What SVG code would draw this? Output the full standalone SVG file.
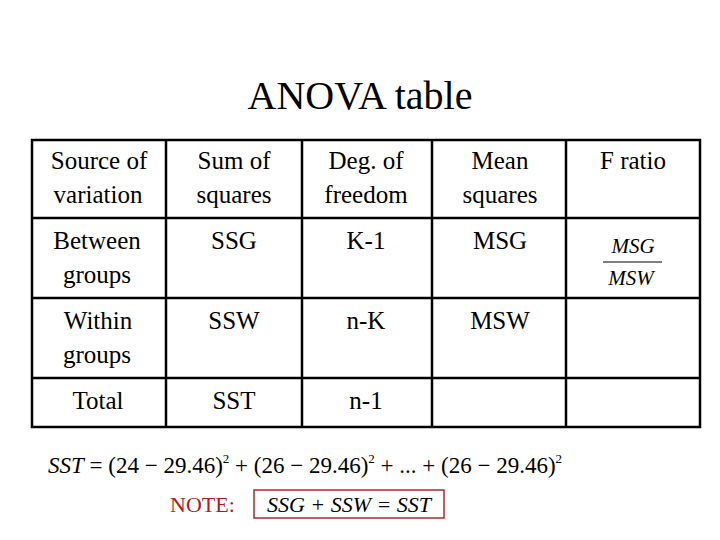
<svg xmlns="http://www.w3.org/2000/svg" width="720" height="540" viewBox="0 0 720 540" font-family="Liberation Serif, Times New Roman, DejaVu Serif, serif">
<style>
text{font-family:'Liberation Serif','Times New Roman',serif;fill:#000}
.c{font-size:25px;text-anchor:middle}
.i{font-style:italic}
.g{stroke:#000;stroke-width:2.5;fill:none}
</style>
<rect width="720" height="540" fill="#fff"/>
<text x="360" y="109" font-size="40" text-anchor="middle">ANOVA table</text>
<g id="table">
<rect class="g" x="32" y="140" width="668" height="287"/>
<line class="g" x1="32" y1="218" x2="700" y2="218"/>
<line class="g" x1="32" y1="298" x2="700" y2="298"/>
<line class="g" x1="32" y1="378" x2="700" y2="378"/>
<line class="g" x1="166" y1="140" x2="166" y2="427"/>
<line class="g" x1="302" y1="140" x2="302" y2="427"/>
<line class="g" x1="432" y1="140" x2="432" y2="427"/>
<line class="g" x1="566" y1="140" x2="566" y2="427"/>
</g>
<g id="header">
<text class="c" x="99" y="169">Source of</text><text class="c" x="98" y="203">variation</text>
<text class="c" x="234" y="169">Sum of</text><text class="c" x="234" y="203">squares</text>
<text class="c" x="366" y="169">Deg. of</text><text class="c" x="366" y="203">freedom</text>
<text class="c" x="500" y="169">Mean</text><text class="c" x="500" y="203">squares</text>
<text class="c" x="633" y="169">F ratio</text>
</g>
<g id="row-between">
<text class="c" x="97" y="249">Between</text><text class="c" x="97" y="283">groups</text>
<text class="c" x="234" y="249">SSG</text>
<text class="c" x="366" y="249">K-1</text>
<text class="c" x="500" y="249">MSG</text>
<text x="633" y="253" font-size="21" text-anchor="middle" class="i">MSG</text>
<line x1="603" y1="262" x2="662" y2="262" stroke="#000" stroke-width="1"/>
<text x="631" y="285" font-size="21" text-anchor="middle" class="i">MSW</text>
</g>
<g id="row-within">
<text class="c" x="98" y="329">Within</text><text class="c" x="97" y="363">groups</text>
<text class="c" x="234" y="329">SSW</text>
<text class="c" x="366" y="329">n-K</text>
<text class="c" x="500" y="329">MSW</text>
</g>
<g id="row-total">
<text class="c" x="98" y="409">Total</text>
<text class="c" x="234" y="409">SST</text>
<text class="c" x="366" y="409">n-1</text>
</g>
<g id="formula">
<text x="48" y="473" font-size="23"><tspan class="i">SST</tspan> = (24 − 29.46)<tspan font-size="13" dy="-10">2</tspan><tspan dy="10"> + (26 − 29.46)</tspan><tspan font-size="13" dy="-10">2</tspan><tspan dy="10"> + ... + (26 − 29.46)</tspan><tspan font-size="13" dy="-10">2</tspan></text>
</g>
<g id="note">
<text x="170" y="512" font-size="22" style="fill:#b01c1c">NOTE:</text>
<rect x="254" y="490" width="190" height="28" fill="none" stroke="#b02a2a" stroke-width="1.5"/>
<text x="349" y="512" font-size="22" text-anchor="middle" class="i">SSG + SSW = SST</text>
</g>
</svg>
